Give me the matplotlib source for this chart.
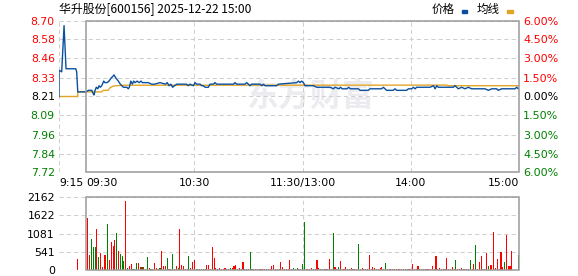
import matplotlib
matplotlib.use('Agg')
import matplotlib.pyplot as plt
from matplotlib.patches import Rectangle

plt.rcParams['font.family'] = ['DejaVu Sans', 'Noto Sans CJK SC']

PREV_CLOSE = 8.21
price_ticks = [7.72, 7.84, 7.96, 8.09, 8.21, 8.33, 8.46, 8.58, 8.70]
pct_labels = ['6.00%', '4.50%', '3.00%', '1.50%', '0.00%', '1.50%', '3.00%', '4.50%', '6.00%']
vol_ticks = [0, 541, 1081, 1622, 2162]
time_ticks = [-15, 0, 60, 120, 180, 240]
time_labels = ['9:15', '09:30', '10:30', '11:30/13:00', '14:00', '15:00']

# minutes from 09:30 (auction minutes are negative, afternoon follows 11:30 directly)
price_t = [-15, -15, -13.5, -12.2, -11.1, -5.7, -5.2, -4.6,
	0, 1.3, 2.2, 3.2, 3.9, 4.4, 5.0, 5.7, 6.5, 7.2, 7.9, 8.7, 9.8, 10.5, 11.6, 12.7,
	13.9, 14.8, 15.5, 16.5, 17.2, 17.9, 19.0, 19.8, 20.7, 21.6, 22.6, 23.4, 24.0,
	24.8, 25.7, 26.4, 27.2, 28.3, 29.4, 30.5, 31.2, 32.7, 34.5, 36.4, 38.0, 41.0,
	44.0, 45.0, 46.0, 47.0, 48.0, 49.0, 50.3, 55.7, 56.6, 57.6, 59.5, 60.4, 61.3,
	63.2, 64.1, 65.0, 66.0, 67.8, 68.7, 70.6, 71.5, 72.4, 79.8, 81.7, 82.6, 83.5,
	88.1, 89.1, 90.9, 91.9, 96.5, 97.4, 98.3, 99.2, 105.7, 106.6, 116.8, 117.7,
	118.6, 119.5, 120.5, 121.4, 122.3, 126.0, 127.9, 131.6, 135.3, 137.1, 138.0,
	140.2, 141.1, 142.0, 144.7, 145.6, 146.5, 151.0, 151.9, 156.5, 157.4, 163.8,
	164.8, 165.7, 166.6, 170.3, 171.3, 172.2, 177.7, 178.7, 180.5, 181.4, 182.4,
	183.3, 190.7, 192.6, 193.5, 194.4, 195.3, 203.6, 204.5, 206.4, 208.2, 210.1,
	211.9, 213.7, 221.2, 223.0, 224.9, 227.6, 228.5, 230.4, 237.8, 238.7, 239.6, 240]
price_v = [8.21, 8.38, 8.37, 8.67, 8.39, 8.39, 8.37, 8.24,
	8.24, 8.25, 8.25, 8.25, 8.23, 8.22, 8.25, 8.27, 8.26, 8.28, 8.27, 8.28, 8.31, 8.30, 8.30, 8.31,
	8.33, 8.34, 8.35, 8.33, 8.32, 8.31, 8.29, 8.28, 8.27, 8.27, 8.27, 8.26, 8.27,
	8.31, 8.29, 8.31, 8.30, 8.31, 8.30, 8.31, 8.30, 8.30, 8.30, 8.29, 8.29, 8.30,
	8.29, 8.30, 8.28, 8.29, 8.27, 8.28, 8.29, 8.29, 8.28, 8.29, 8.28, 8.30, 8.29,
	8.29, 8.28, 8.28, 8.27, 8.27, 8.29, 8.29, 8.30, 8.29, 8.29, 8.29, 8.30, 8.29,
	8.29, 8.30, 8.28, 8.29, 8.29, 8.28, 8.29, 8.28, 8.28, 8.29, 8.30, 8.31,
	8.30, 8.31, 8.30, 8.28, 8.28, 8.28, 8.27, 8.27, 8.27, 8.26, 8.27,
	8.26, 8.27, 8.26, 8.26, 8.27, 8.26, 8.26, 8.25, 8.25, 8.26, 8.26,
	8.27, 8.26, 8.25, 8.25, 8.26, 8.25, 8.25, 8.26, 8.26, 8.27, 8.26,
	8.27, 8.27, 8.28, 8.26, 8.28, 8.27, 8.27, 8.28, 8.26, 8.27, 8.26,
	8.27, 8.26, 8.26, 8.25, 8.26, 8.26, 8.25, 8.26, 8.26, 8.27, 8.26, 8.26]

avg_t = [-15, -4.6, -4.6, 8.7, 9.5, 12.2, 13.3, 15.1, 20, 200, 200.5, 240]
avg_v = [8.21, 8.21, 8.24, 8.24, 8.25, 8.25, 8.267, 8.278, 8.283, 8.284, 8.280, 8.280]

auction_vol_t = [-4.5]
auction_vol = [330]
auction_col = 'r'

# one bar per trading minute, 09:31 .. 15:00
volume = [
	1530, 450, 930, 690, 690, 1200, 390, 510, 100, 450,
	450, 1350, 300, 840, 720, 900, 1110, 570, 480, 420,
	270, 2050, 60, 120, 180, 30, 30, 210, 210, 90,
	90, 90, 30, 390, 60, 30, 30, 210, 60, 30,
	60, 570, 120, 120, 360, 30, 30, 480, 30, 120,
	60, 1200, 150, 120, 30, 30, 420, 60, 240, 300,
	30, 30, 30, 30, 30, 30, 150, 150, 30, 690,
	360, 60, 30, 60, 30, 30, 60, 30, 30, 60,
	60, 120, 150, 30, 60, 30, 240, 30, 30, 30,
	540, 30, 30, 30, 30, 30, 30, 30, 30, 30,
	30, 30, 120, 150, 30, 30, 30, 240, 90, 30,
	30, 30, 300, 30, 60, 30, 60, 30, 30, 180,
	1410, 30, 30, 30, 60, 30, 30, 300, 60, 30,
	30, 30, 30, 30, 330, 30, 1110, 90, 30, 90,
	270, 30, 30, 90, 30, 30, 60, 30, 30, 30,
	780, 30, 60, 30, 30, 30, 450, 30, 90, 60,
	30, 30, 60, 90, 30, 210, 30, 30, 30, 30,
	30, 30, 30, 30, 30, 30, 30, 30, 30, 30,
	180, 30, 30, 120, 30, 30, 30, 30, 30, 30,
	30, 120, 30, 420, 30, 60, 30, 30, 30, 360,
	30, 30, 90, 30, 300, 30, 30, 60, 30, 30,
	30, 30, 300, 30, 180, 750, 30, 240, 420, 30,
	30, 510, 120, 150, 150, 1140, 60, 330, 30, 540,
	90, 240, 1050, 120, 120, 570, 0, 0, 0, 450]
vol_colors = (
	'rrgggrgrrr' 'rgrrrrgrgg' 'grgrrgggrr' 'grggrgrrrr' 'grrrgrrgrr'
	'grrrgrgrrr' 'gggrgrrrrr' 'rrgrrrrgrg' 'rrrgrgrgrr' 'ggrrrrrrrr'
	'rrrrrrrrrr' 'rrrrgrgrrg' 'grrrrgrrrr' 'ggrrrrgrrg' 'rrrrrgrrrr'
	'grrrgrrrrr' 'rrrrrgrrrr' 'rrrrrrrrrr' 'rrrrggrrrr' 'rrgrrrrrrr'
	'rrrrgrrrgr' 'rrgrrgrrrg' 'rrgrrrrrrr' 'rgrrrrrrrg')

BLUE = '#0b4f9f'
ORANGE = '#e0a526'
RED = '#ff0000'
GREEN = '#008000'
GRID = '#cfcfcf'
BORDER = '#9a9a9a'
W, H = 578, 276


def px_axes(fig, x0, y0, x1, y1):
	return fig.add_axes([x0 / W, 1 - y1 / H, (x1 - x0) / W, (y1 - y0) / H])


def level_color(v):
	if v > PREV_CLOSE + 0.001:
		return RED
	if v < PREV_CLOSE - 0.001:
		return GREEN
	return 'black'


def bare(ax):
	for s in ax.spines.values():
		s.set_visible(False)


def price_panel(fig):
	ax = px_axes(fig, 59, 21, 519, 172)
	ax.set_xlim(-15, 240)
	ax.set_ylim(price_ticks[0], price_ticks[-1])
	bare(ax)
	for y in price_ticks:
		ax.axhline(y, color=GRID, lw=0.75, ls=(0, (4, 3)), zorder=1)
	for x in [-15, 60, 120, 180]:
		ax.axvline(x, color=GRID, lw=0.75, ls=(0, (4, 3)), zorder=1)
	ax.add_patch(Rectangle((0, price_ticks[0]), 240, price_ticks[-1] - price_ticks[0],
			fill=False, ec=BORDER, lw=1.1, clip_on=False, zorder=5))
	ax.text(124, 8.20, '东方财富', family=['Noto Sans CJK SC'], fontsize=23,
			fontweight='bold', color='#ececf0', ha='center', va='center', zorder=0)
	ax.plot(avg_t, avg_v, color=ORANGE, lw=1.0, zorder=3)
	ax.plot(price_t, price_v, color=BLUE, lw=1.0, zorder=4)

	ax.set_yticks(price_ticks)
	ax.set_yticklabels(['%.2f' % v for v in price_ticks])
	for lab, v in zip(ax.get_yticklabels(), price_ticks):
		lab.set_color(level_color(v))
	ax.tick_params(axis='y', length=0, pad=3, labelsize=7.8)

	ax.set_xticks(time_ticks)
	ax.set_xticklabels(time_labels)
	for lab, ha in zip(ax.get_xticklabels(), ['left', 'left', 'center', 'center', 'center', 'right']):
		lab.set_ha(ha)
	ax.tick_params(axis='x', length=0, pad=4, labelsize=7.8)
	ax.get_xticklabels()[0].set_x(-16)

	ax2 = ax.twinx()
	ax2.set_ylim(ax.get_ylim())
	bare(ax2)
	ax2.set_yticks(price_ticks)
	ax2.set_yticklabels(pct_labels)
	for lab, v in zip(ax2.get_yticklabels(), price_ticks):
		lab.set_color(level_color(v))
	ax2.tick_params(axis='y', length=0, pad=3, labelsize=8)


def volume_panel(fig):
	ax = px_axes(fig, 59, 197, 519, 270)
	ax.set_xlim(-15, 240)
	ax.set_ylim(vol_ticks[0], vol_ticks[-1])
	bare(ax)
	for y in vol_ticks:
		ax.axhline(y, color=GRID, lw=0.75, ls=(0, (4, 3)), zorder=1)
	for x in [60, 120, 180]:
		ax.axvline(x, color=GRID, lw=0.75, ls=(0, (4, 3)), zorder=1)
	ax.add_patch(Rectangle((0, 0), 240, vol_ticks[-1], fill=False, ec=BORDER,
			lw=1.1, clip_on=False, zorder=5))
	cmap = {'r': RED, 'g': GREEN}
	ax.bar(range(1, len(volume) + 1), volume, width=0.6,
			color=[cmap[c] for c in vol_colors], antialiased=False, zorder=3)
	ax.bar(auction_vol_t, auction_vol, width=0.6, color=cmap[auction_col],
			antialiased=False, zorder=3)
	ax.set_yticks(vol_ticks)
	ax.set_yticklabels([str(v) for v in vol_ticks])
	ax.tick_params(axis='y', length=0, pad=3, labelsize=7.8)
	ax.set_xticks([])


def header(fig):
	cjk = ['Noto Sans CJK SC', 'DejaVu Sans']
	fig.text(59 / W, 1 - 9 / H, '华升股份[600156] 2025-12-22 15:00', family=cjk,
			fontsize=8.6, ha='left', va='center')
	fig.text(432 / W, 1 - 9.5 / H, '价格', family=cjk, fontsize=8.3, ha='left', va='center')
	fig.text(477 / W, 1 - 9.5 / H, '均线', family=cjk, fontsize=8.3, ha='left', va='center')
	fig.patches.append(Rectangle((462 / W, 1 - 12.5 / H), 5 / W, 2.5 / H,
			color=BLUE, transform=fig.transFigure, figure=fig))
	fig.patches.append(Rectangle((507 / W, 1 - 12.5 / H), 6 / W, 2.5 / H,
			color=ORANGE, transform=fig.transFigure, figure=fig))


if __name__ == "__main__":
	fig = plt.figure(figsize=(W / 100, H / 100), dpi=100)
	price_panel(fig)
	volume_panel(fig)
	header(fig)
	fig.savefig('out.png', dpi=100)
